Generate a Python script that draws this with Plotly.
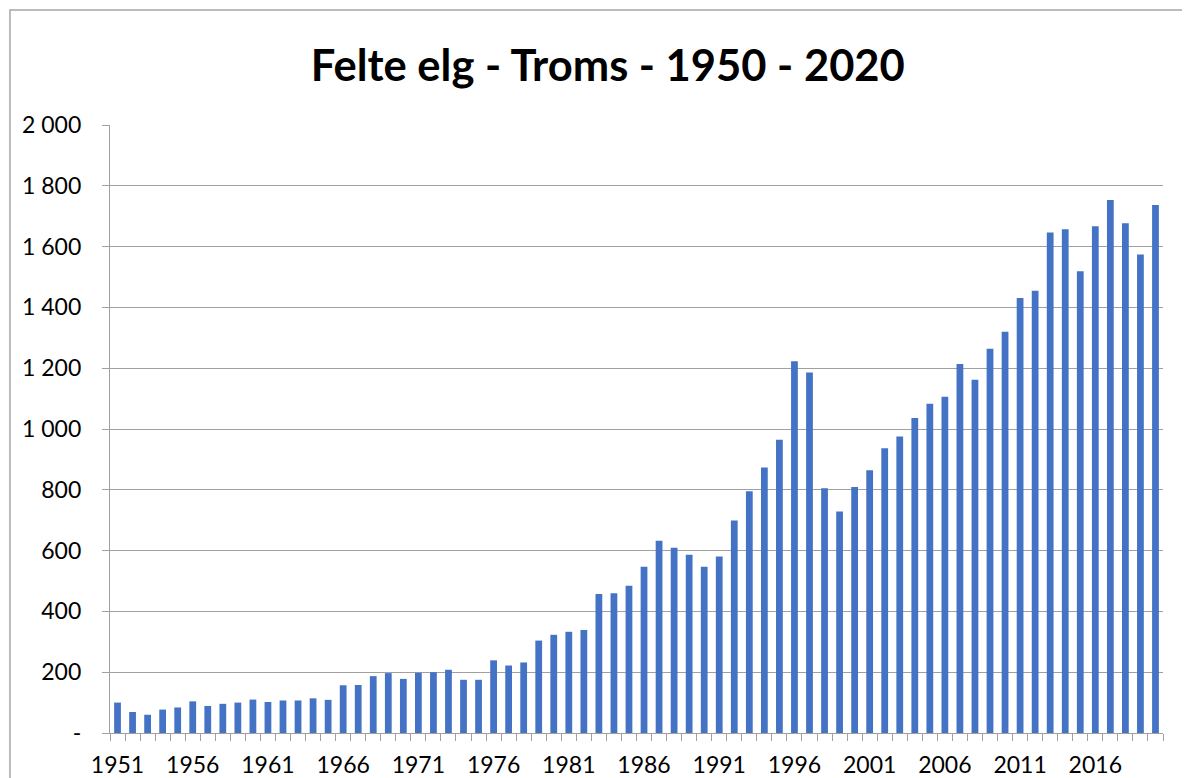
import plotly.graph_objects as go

years = list(range(1951, 2021))
felte = [100, 69, 60, 77, 84, 104, 89, 96, 100, 110,
         102, 107, 107, 114, 109, 157, 158, 187, 197, 178,
         198, 200, 208, 175, 175, 239, 222, 232, 304, 323,
         333, 339, 457, 460, 484, 547, 632, 609, 586, 547,
         581, 699, 795, 873, 965, 1223, 1186, 805, 729, 809,
         864, 937, 975, 1036, 1083, 1106, 1214, 1162, 1264, 1320,
         1431, 1455, 1646, 1657, 1519, 1667, 1753, 1677, 1574, 1737]
x_tick_vals = list(range(1951, 2020, 5))
x_tick_text = [str(v) for v in x_tick_vals]
y_tick_vals = list(range(0, 2001, 200))
y_tick_text = ["-", "200", "400", "600", "800", "1 000", "1 200", "1 400", "1 600", "1 800", "2 000"]

FONT = "Lato"
GRID = "#a0a0a0"

fig = go.Figure()
fig.add_trace(go.Bar(x=years, y=felte, width=0.45, marker=dict(color="#4472C4", line=dict(width=0))))

fig.update_layout(
    width=1182, height=770,
    margin=dict(l=102, r=27, t=117, b=45, autoexpand=False),
    paper_bgcolor="white", plot_bgcolor="white",
    showlegend=False,
    title=dict(text="<b>Felte elg - Troms - 1950 - 2020</b>", x=0.5075, xanchor="center",
               y=0.925, yanchor="middle", automargin=False,
               font=dict(family=FONT, size=43.5, color="#000")),
    font=dict(family=FONT, color="#000"),
)
fig.update_xaxes(
    type="linear", range=[1950.5, 2020.5], automargin=False,
    tickvals=x_tick_vals, ticktext=x_tick_text, ticks="",
    tickfont=dict(size=23, family=FONT, color="#000"),
    showline=True, linecolor=GRID, linewidth=1.3, showgrid=False, zeroline=False,
    minor=dict(ticks="outside", tick0=1950.5, dtick=1, ticklen=7, tickcolor=GRID, tickwidth=1.3, showgrid=False),
    ticklabelstandoff=11,
)
fig.update_yaxes(
    range=[0, 2000], tickvals=y_tick_vals, ticktext=y_tick_text, automargin=False,
    ticks="outside", ticklen=7, tickcolor=GRID, tickwidth=1.3,
    tickfont=dict(size=23, family=FONT, color="#000"),
    showgrid=True, gridcolor=GRID, gridwidth=1.3,
    showline=True, linecolor=GRID, linewidth=1.3, zeroline=False,
    ticklabelstandoff=16,
)
# chart-area border (left/top visible, right/bottom run past the page edge)
fig.add_shape(type="rect", xref="paper", yref="paper",
              x0=-0.095, x1=1.3, y0=-0.3, y1=1.189,
              line=dict(color="#a6a6a6", width=1.5), fillcolor="rgba(0,0,0,0)", layer="below")

fig.write_html("out.html")
